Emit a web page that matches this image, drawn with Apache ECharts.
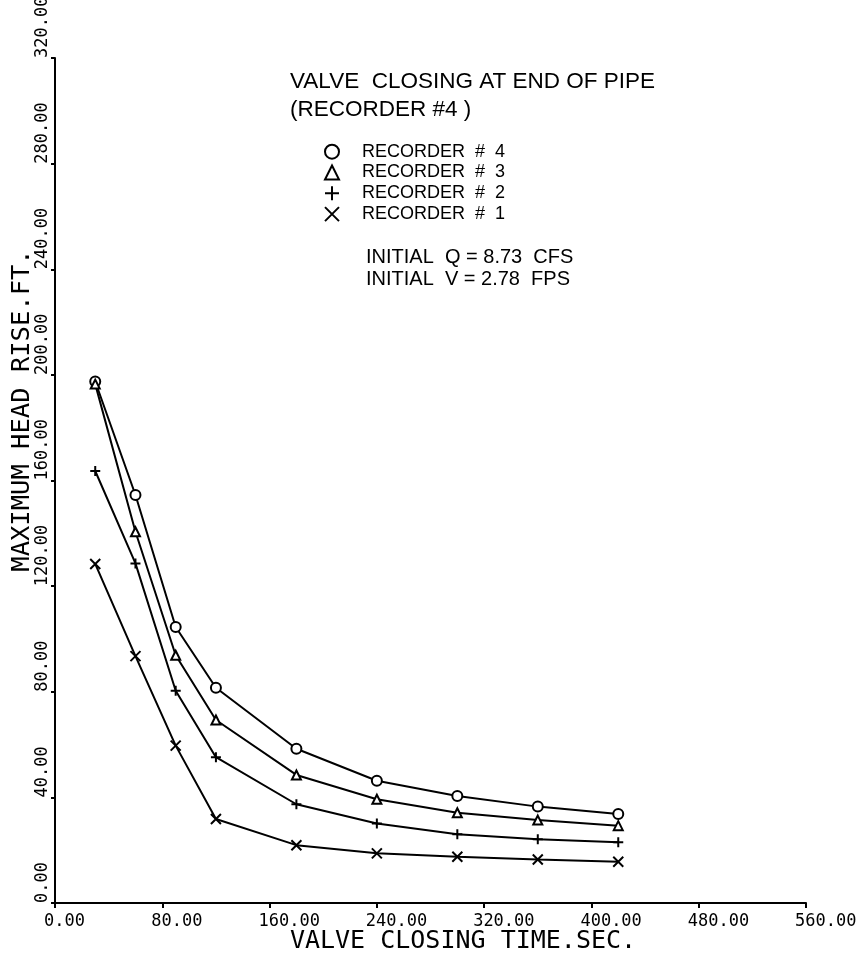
<!DOCTYPE html>
<html>
<head>
<meta charset="utf-8">
<script src="https://cdn.jsdelivr.net/npm/echarts@6/dist/echarts.min.js"></script>
<style>html,body{margin:0;padding:0;background:#fff;}#c{width:861px;height:953px;}</style>
</head>
<body>
<div id="c"></div>
<script>
const closingTime = [30, 60, 90, 120, 180, 240, 300, 360, 420];
const recorder4 = [197.5, 154.5, 104.5, 81.5, 58.4, 46.3, 40.5, 36.5, 33.7];
const recorder3 = [196.5, 140.6, 93.8, 69.3, 48.5, 39.3, 34.2, 31.4, 29.3];
const recorder2 = [163.6, 128.6, 80.4, 55.2, 37.4, 30.1, 26.0, 24.1, 23.0];
const recorder1 = [128.4, 93.5, 59.6, 31.8, 21.9, 18.8, 17.5, 16.5, 15.6];
const seriesNames = ['RECORDER  #  4', 'RECORDER  #  3', 'RECORDER  #  2', 'RECORDER  #  1'];
const titleText = 'VALVE  CLOSING AT END OF PIPE';
const subtitleText = '(RECORDER #4 )';
const noteQ = 'INITIAL  Q = 8.73  CFS';
const noteV = 'INITIAL  V = 2.78  FPS';
const xName = 'VALVE CLOSING TIME.SEC.';
const yName = 'MAXIMUM HEAD RISE.FT.';

const PLUS = 'path://M0,5L10,5M5,0L5,10';
const CROSS = 'path://M0,0L10,10M10,0L0,10';
const symbols = ['emptyCircle', 'emptyTriangle', PLUS, CROSS];
const sizes = [10, 9, 10, 10];
const datasets = [recorder4, recorder3, recorder2, recorder1];

const mono = 'DejaVu Sans Mono';
const sans = 'Liberation Sans';

const chart = echarts.init(document.getElementById('c'), null, {renderer: 'canvas'});
const txt = (size) => ({fontSize: size, fontWeight: 'normal', fontFamily: sans, color: '#000'});

const option = {
  backgroundColor: '#fff',
  animation: false,
  title: [
    {text: titleText, left: 290, top: 70, padding: 0, textStyle: txt(22.5)},
    {text: subtitleText, left: 290, top: 98, padding: 0, textStyle: txt(22.5)},
    {text: noteQ, left: 366, top: 247.5, padding: 0, textStyle: txt(20)},
    {text: noteV, left: 366, top: 269, padding: 0, textStyle: txt(20)}
  ],
  legend: {
    orient: 'vertical',
    left: 324,
    top: 142.7,
    padding: 0,
    itemWidth: 14,
    itemHeight: 14,
    itemGap: 2.8,
    selectedMode: false,
    textStyle: Object.assign(txt(18), {padding: [0, 0, 0, 18]}),
    data: seriesNames.map((n, i) => ({name: n, icon: symbols[i]}))
  },
  grid: {left: 55, right: 55, top: 58, bottom: 50, containLabel: false, outerBoundsMode: 'none'},
  xAxis: {
    type: 'value', min: 0, max: 560, interval: 80,
    name: xName, nameLocation: 'middle', nameGap: 25.5, nameMoveOverlap: false,
    nameTextStyle: {fontFamily: mono, fontSize: 25, color: '#000', padding: [0, 0, 0, 65]},
    axisLine: {show: true, lineStyle: {color: '#000', width: 2}},
    axisTick: {show: true, inside: false, length: 5, lineStyle: {color: '#000', width: 2}},
    splitLine: {show: false},
    axisLabel: {
      formatter: v => v.toFixed(2), fontFamily: mono, fontSize: 17, color: '#000',
      align: 'left', margin: 10, padding: [0, 0, 0, -11]
    }
  },
  yAxis: {
    type: 'value', min: 0, max: 320, interval: 40,
    name: yName, nameLocation: 'middle', nameGap: 20, nameMoveOverlap: false,
    nameTextStyle: {fontFamily: mono, fontSize: 25.5, color: '#000', padding: [0, 0, 0, 140]},
    axisLine: {show: true, lineStyle: {color: '#000', width: 2}},
    axisTick: {show: true, inside: false, length: 4, lineStyle: {color: '#000', width: 2}},
    splitLine: {show: false},
    axisLabel: {
      formatter: v => v.toFixed(2), fontFamily: mono, fontSize: 17, color: '#000',
      rotate: 90, align: 'left', verticalAlign: 'middle', margin: 12
    }
  },
  series: datasets.map((d, i) => ({
    name: seriesNames[i],
    type: 'line',
    data: closingTime.map((x, j) => [x, d[j]]),
    symbol: symbols[i],
    symbolSize: sizes[i],
    showAllSymbol: true,
    lineStyle: {color: '#000', width: 2},
    itemStyle: {color: '#000', borderColor: '#000', borderWidth: 2},
    z: 3
  }))
};
chart.setOption(option);
</script>
</body>
</html>
